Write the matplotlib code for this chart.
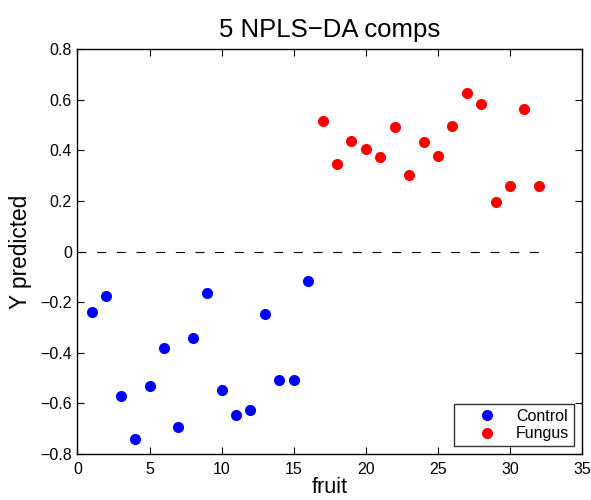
import matplotlib
matplotlib.use("Agg")
import matplotlib.pyplot as plt

plt.rcParams['font.family'] = ['Liberation Sans', 'DejaVu Sans']

control_x = list(range(1, 17))
control_y = [-0.239, -0.176, -0.571, -0.741, -0.532, -0.381, -0.694, -0.342,
             -0.164, -0.547, -0.646, -0.626, -0.247, -0.508, -0.508, -0.117]
fungus_x = list(range(17, 33))
fungus_y = [0.516, 0.346, 0.437, 0.405, 0.374, 0.492, 0.302, 0.433,
            0.377, 0.496, 0.626, 0.583, 0.196, 0.259, 0.563, 0.259]

xticks = [0, 5, 10, 15, 20, 25, 30, 35]
yticks = [-0.8, -0.6, -0.4, -0.2, 0, 0.2, 0.4, 0.6, 0.8]
ytick_labels = ['\u22120.8', '\u22120.6', '\u22120.4', '\u22120.2', '0', '0.2', '0.4', '0.6', '0.8']

fig = plt.figure(figsize=(5.91, 5.00), dpi=100)
ax = fig.add_axes([0.131, 0.092, 0.854, 0.810])

ax.plot([0, 32], [0, 0], linestyle=(0, (8.1, 9.6)), color='black', linewidth=0.8)
ax.plot(control_x, control_y, 'o', color='#0000ff', markersize=8, markeredgewidth=0, label='Control')
ax.plot(fungus_x, fungus_y, 'o', color='#ff0000', markersize=8, markeredgewidth=0, label='Fungus')

ax.set_xlim(0, 35)
ax.set_ylim(-0.8, 0.8)
ax.set_xticks(xticks)
ax.set_yticks(yticks)
ax.set_yticklabels(ytick_labels)
ax.tick_params(direction='in', top=True, right=True, labelsize=11.5, length=5, width=0.8)
ax.tick_params(axis='x', pad=6)
ax.tick_params(axis='y', pad=4)
for s in ax.spines.values():
    s.set_linewidth(1.0)

ax.set_title('5 NPLS\u2212DA comps', fontsize=18.5, pad=9)
ax.set_xlabel('fruit', fontsize=15.5, labelpad=0)
ax.set_ylabel('Y predicted', fontsize=16.3, labelpad=6)

leg = ax.legend(loc='lower right', fontsize=11.5, frameon=True, fancybox=False,
                edgecolor='black', borderaxespad=0.5, handlelength=3.5,
                handletextpad=0.1, borderpad=0.3, labelspacing=0.15)
leg.get_frame().set_linewidth(1.0)

fig.savefig('out.png', dpi=100)
